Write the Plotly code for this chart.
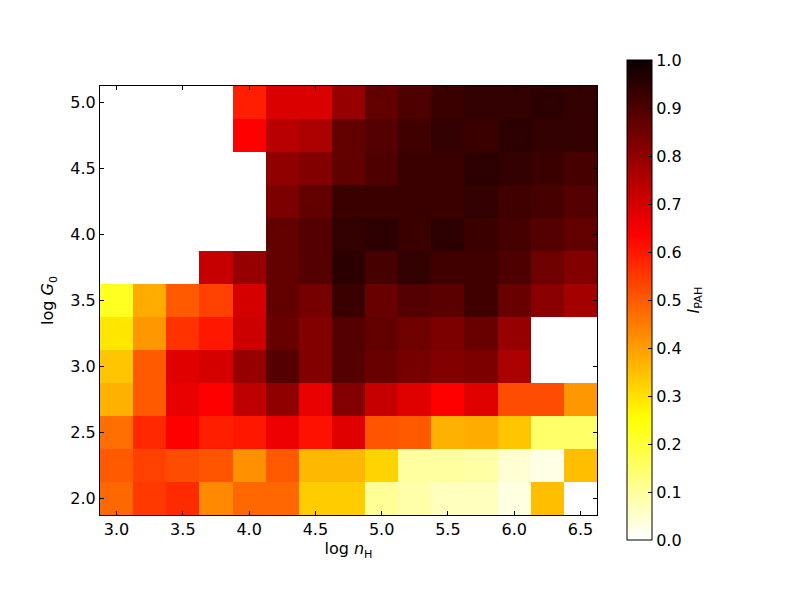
import plotly.graph_objects as go

# grid centres
log_nH = [3.0, 3.25, 3.5, 3.75, 4.0, 4.25, 4.5, 4.75, 5.0, 5.25, 5.5, 5.75, 6.0, 6.25, 6.5]
log_G0 = [2.0, 2.25, 2.5, 2.75, 3.0, 3.25, 3.5, 3.75, 4.0, 4.25, 4.5, 4.75, 5.0]

N = None
# I_PAH, one row per log G0 (bottom to top)
row_200 = [.48, .55, .57, .43, .48, .48, .33, .33, .105, .085, .065, .065, .03, .35, N]
row_225 = [.50, .54, .52, .51, .42, .50, .36, .36, .32, .095, .095, .09, .045, .025, .35]
row_250 = [.47, .575, .635, .59, .60, .66, .61, .68, .51, .50, .37, .38, .34, .15, .15]
row_275 = [.37, .50, .67, .635, .73, .80, .67, .82, .72, .68, .635, .68, .52, .52, .41]
row_300 = [.34, .50, .68, .70, .79, .89, .82, .89, .86, .84, .82, .83, .76, N, N]
row_325 = [.29, .41, .56, .60, .71, .86, .82, .89, .87, .85, .83, .86, .79, N, N]
row_350 = [.22, .38, .50, .54, .70, .87, .84, .93, .86, .89, .88, .92, .86, .81, .77]
row_375 = [N, N, N, .72, .79, .87, .89, .95, .91, .94, .92, .92, .90, .85, .82]
row_400 = [N, N, N, N, N, .87, .89, .94, .95, .93, .95, .93, .91, .89, .87]
row_425 = [N, N, N, N, N, .83, .87, .93, .93, .93, .93, .94, .92, .91, .89]
row_450 = [N, N, N, N, N, .80, .82, .87, .90, .93, .93, .95, .94, .93, .91]
row_475 = [N, N, N, N, .635, .74, .76, .87, .89, .92, .94, .93, .95, .94, .94]
row_500 = [N, N, N, N, .59, .69, .69, .79, .87, .90, .93, .94, .94, .95, .94]

z = [row_200, row_225, row_250, row_275, row_300, row_325, row_350,
     row_375, row_400, row_425, row_450, row_475, row_500]

# matplotlib hot_r
hot_r = [
    [0.0, "rgb(255,255,255)"],
    [0.253968, "rgb(255,255,0)"],
    [0.634921, "rgb(255,0,0)"],
    [1.0, "rgb(11,0,0)"],
]

FONT = "DejaVu Sans"

# page body has an 8px margin, so the figure is laid out 8px smaller
fig = go.Figure(go.Heatmap(
    x=log_nH, y=log_G0, z=z,
    zmin=0, zmax=1,
    colorscale=hot_r,
    hoverongaps=False,
    colorbar=dict(
        x=(627 - 100) / 497, xanchor="left",
        y=(515 - 300) / 429, yanchor="middle",
        len=480 / 429, lenmode="fraction",
        thickness=25,
        outlinewidth=1, outlinecolor="black",
        ticks="inside", ticklen=4, tickcolor="black",
        tickvals=[0, .1, .2, .3, .4, .5, .6, .7, .8, .9, 1.0],
        tickformat=".1f",
        tickfont=dict(family=FONT, size=16, color="black"),
        title=dict(text="<i>I</i><sub>PAH</sub>", side="right",
                   font=dict(family=FONT, size=16, color="black")),
        xpad=0, ypad=0,
    ),
))

axis_style = dict(
    showline=True, linecolor="black", linewidth=1, mirror="ticks",
    ticks="inside", ticklen=4, tickcolor="black",
    showgrid=False, zeroline=False,
    tickformat=".1f",
    tickfont=dict(family=FONT, size=16, color="black"),
)

fig.update_xaxes(range=[2.875, 6.625], tickvals=[3.0, 3.5, 4.0, 4.5, 5.0, 5.5, 6.0, 6.5],
                 title=dict(text="log <i>n</i><sub>H</sub>", standoff=4,
                            font=dict(family=FONT, size=16, color="black")),
                 **axis_style)
fig.update_yaxes(range=[1.875, 5.125], tickvals=[2.0, 2.5, 3.0, 3.5, 4.0, 4.5, 5.0],
                 title=dict(text="log <i>G</i><sub>0</sub>", standoff=12,
                            font=dict(family=FONT, size=16, color="black")),
                 **axis_style)

fig.update_layout(
    width=792, height=592,
    margin=dict(l=92, r=203, t=78, b=85),
    paper_bgcolor="white", plot_bgcolor="white",
    font=dict(family=FONT, size=16, color="black"),
)

fig.write_html("out.html")
